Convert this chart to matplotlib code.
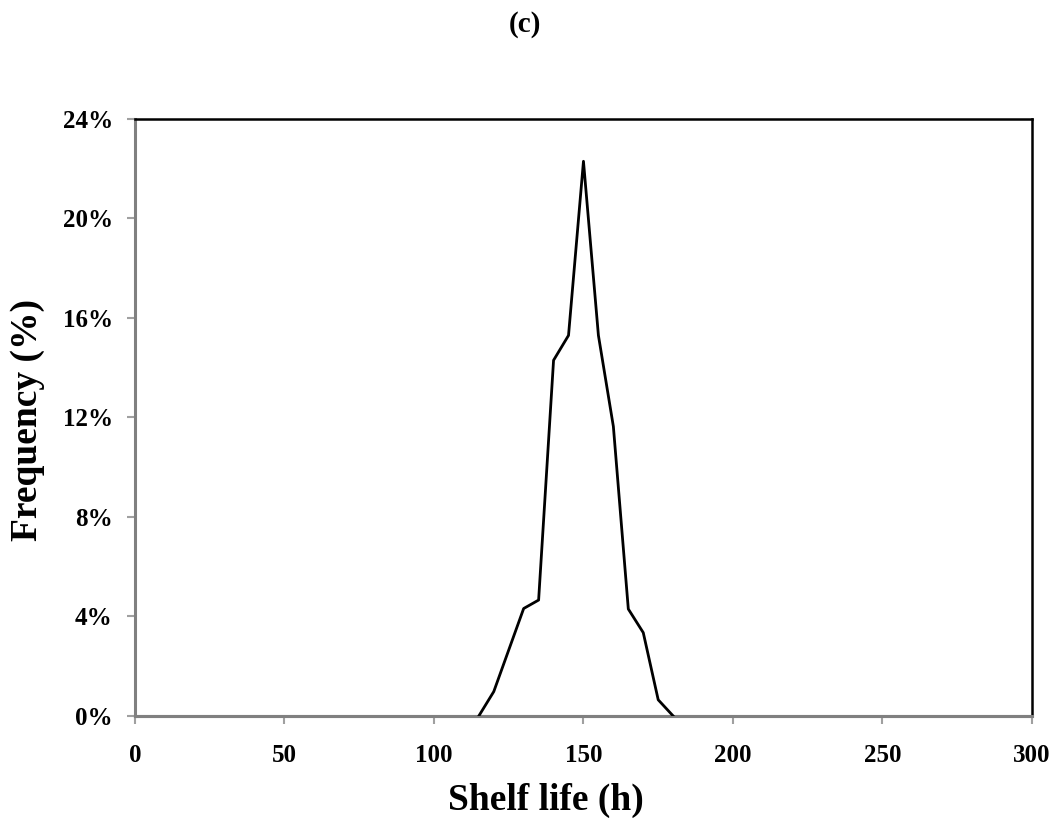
import matplotlib
matplotlib.use('Agg')
import matplotlib.pyplot as plt
from matplotlib.ticker import FuncFormatter

# shelf life (h) and frequency (%)
shelf_life = [115, 120, 130, 135, 140, 145, 150, 155, 160, 165, 170, 175, 180]
frequency = [0.0, 0.98, 4.32, 4.66, 14.3, 15.3, 22.3, 15.3, 11.64, 4.3, 3.35, 0.65, 0.0]

x_ticks = [0, 50, 100, 150, 200, 250, 300]
y_ticks = [0, 4, 8, 12, 16, 20, 24]

plt.rcParams['font.family'] = ['Liberation Serif', 'DejaVu Serif']
plt.rcParams['font.weight'] = 'bold'

fig = plt.figure(figsize=(10.57, 8.19), dpi=100)
ax = fig.add_axes([0.1277, 0.1258, 0.8486, 0.7289])

# full x range baseline, then the curve
ax.plot([0, 300], [0, 0], color='#808080', lw=2.2, zorder=2, clip_on=False)
ax.plot(shelf_life, frequency, color='black', lw=2, zorder=3)

ax.set_xlim(0, 300)
ax.set_ylim(0, 24)
ax.set_xticks(x_ticks)
ax.set_yticks(y_ticks)
ax.yaxis.set_major_formatter(FuncFormatter(lambda v, p: f'{int(v)}%'))

for side in ['top', 'right']:
    ax.spines[side].set_color('black')
    ax.spines[side].set_linewidth(1.8)
for side in ['left', 'bottom']:
    ax.spines[side].set_color('#808080')
    ax.spines[side].set_linewidth(2.2)

ax.tick_params(axis='both', direction='out', length=6, width=1.5, color='#a0a0a0',
               labelsize=18)
ax.tick_params(axis='x', pad=14)
ax.tick_params(axis='y', pad=10)
for lbl in ax.get_xticklabels() + ax.get_yticklabels():
    lbl.set_fontweight('bold')

ax.set_xlabel('Shelf life (h)', fontsize=27, fontweight='bold', va='center')
ax.xaxis.set_label_coords(0.458, -0.1407)
ax.set_ylabel('Frequency (%)', fontsize=27, fontweight='bold', va='center')
ax.yaxis.set_label_coords(-0.1193, 0.496)

fig.text(0.497, 0.9695, '(c)', ha='center', va='center', fontsize=21, fontweight='bold')

fig.savefig('out.png', dpi=100)
